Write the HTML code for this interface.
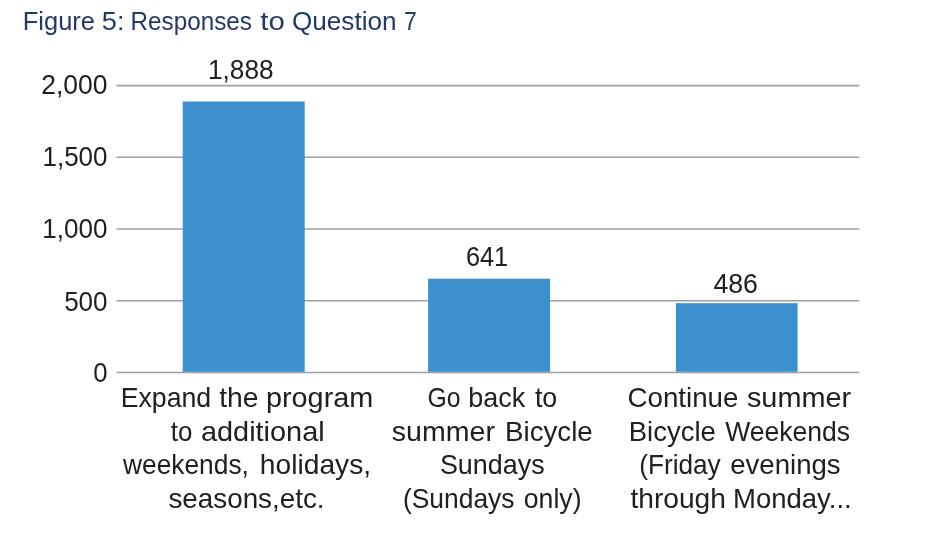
<!DOCTYPE html>
<html lang="en">
<head>
<meta charset="utf-8">
<title>Figure 5: Responses to Question 7</title>
<style>
html,body{margin:0;padding:0;background:#fff;}
body{width:932px;height:541px;overflow:hidden;}
svg{display:block;}
text{font-family:"Liberation Sans",sans-serif;}
</style>
</head>
<body>
<svg width="932" height="541" viewBox="0 0 932 541">
<rect x="0" y="0" width="932" height="541" fill="#ffffff"/>
<g stroke="#a0a0a0" stroke-width="1.6" fill="none">
<line x1="116.5" y1="85.6" x2="859.4" y2="85.6"/>
<line x1="116.5" y1="157.3" x2="859.4" y2="157.3"/>
<line x1="116.5" y1="229.0" x2="859.4" y2="229.0"/>
<line x1="116.5" y1="300.8" x2="859.4" y2="300.8"/>
<line x1="116.5" y1="372.5" x2="859.4" y2="372.5"/>
</g>
<g fill="#3c90ce">
<rect x="182.7" y="101.5" width="122.0" height="270.3"/>
<rect x="428.1" y="278.7" width="122.0" height="93.1"/>
<rect x="675.9" y="303.2" width="121.7" height="68.6"/>
</g>
<text y="29.8" font-size="25.5" fill="#213a67"><tspan x="22.80" textLength="72.12" lengthAdjust="spacingAndGlyphs">Figure</tspan> <tspan x="101.83" textLength="22.70" lengthAdjust="spacingAndGlyphs">5:</tspan> <tspan x="130.60" textLength="121.33" lengthAdjust="spacingAndGlyphs">Responses</tspan> <tspan x="260.32" textLength="24.57" lengthAdjust="spacingAndGlyphs">to</tspan> <tspan x="291.92" textLength="104.68" lengthAdjust="spacingAndGlyphs">Question</tspan> <tspan x="403.97" textLength="12.80" lengthAdjust="spacingAndGlyphs">7</tspan></text>
<text y="93.9" font-size="28.3" fill="#202020"><tspan x="41.28" textLength="66.24" lengthAdjust="spacingAndGlyphs">2,000</tspan></text>
<text y="165.8" font-size="28.3" fill="#202020"><tspan x="42.51" textLength="64.99" lengthAdjust="spacingAndGlyphs">1,500</tspan></text>
<text y="238.4" font-size="28.3" fill="#202020"><tspan x="42.31" textLength="65.20" lengthAdjust="spacingAndGlyphs">1,000</tspan></text>
<text y="310.5" font-size="28.3" fill="#202020"><tspan x="64.14" textLength="43.50" lengthAdjust="spacingAndGlyphs">500</tspan></text>
<text y="382.4" font-size="28.3" fill="#202020"><tspan x="93.18" textLength="14.31" lengthAdjust="spacingAndGlyphs">0</tspan></text>
<text y="79.3" font-size="28.3" fill="#202020"><tspan x="208.00" textLength="65.55" lengthAdjust="spacingAndGlyphs">1,888</tspan></text>
<text y="265.6" font-size="28.3" fill="#202020"><tspan x="465.95" textLength="42.18" lengthAdjust="spacingAndGlyphs">641</tspan></text>
<text y="292.8" font-size="28.3" fill="#202020"><tspan x="713.38" textLength="44.58" lengthAdjust="spacingAndGlyphs">486</tspan></text>
<text y="407.0" font-size="28.3" fill="#202020"><tspan x="120.65" textLength="90.59" lengthAdjust="spacingAndGlyphs">Expand</tspan> <tspan x="219.20" textLength="39.30" lengthAdjust="spacingAndGlyphs">the</tspan> <tspan x="266.00" textLength="107.22" lengthAdjust="spacingAndGlyphs">program</tspan></text>
<text y="440.5" font-size="28.3" fill="#202020"><tspan x="170.84" textLength="21.59" lengthAdjust="spacingAndGlyphs">to</tspan> <tspan x="200.91" textLength="123.78" lengthAdjust="spacingAndGlyphs">additional</tspan></text>
<text y="474.1" font-size="28.3" fill="#202020"><tspan x="123.00" textLength="125.87" lengthAdjust="spacingAndGlyphs">weekends,</tspan> <tspan x="259.84" textLength="111.30" lengthAdjust="spacingAndGlyphs">holidays,</tspan></text>
<text y="507.5" font-size="28.3" fill="#202020"><tspan x="168.46" textLength="156.08" lengthAdjust="spacingAndGlyphs">seasons,etc.</tspan></text>
<text y="407.0" font-size="28.3" fill="#202020"><tspan x="427.47" textLength="33.01" lengthAdjust="spacingAndGlyphs">Go</tspan> <tspan x="468.22" textLength="56.93" lengthAdjust="spacingAndGlyphs">back</tspan> <tspan x="534.92" textLength="22.34" lengthAdjust="spacingAndGlyphs">to</tspan></text>
<text y="440.5" font-size="28.3" fill="#202020"><tspan x="391.84" textLength="103.15" lengthAdjust="spacingAndGlyphs">summer</tspan> <tspan x="505.08" textLength="87.61" lengthAdjust="spacingAndGlyphs">Bicycle</tspan></text>
<text y="474.1" font-size="28.3" fill="#202020"><tspan x="439.90" textLength="104.73" lengthAdjust="spacingAndGlyphs">Sundays</tspan></text>
<text y="507.5" font-size="28.3" fill="#202020"><tspan x="402.95" textLength="111.54" lengthAdjust="spacingAndGlyphs">(Sundays</tspan> <tspan x="523.81" textLength="57.71" lengthAdjust="spacingAndGlyphs">only)</tspan></text>
<text y="407.0" font-size="28.3" fill="#202020"><tspan x="627.52" textLength="110.91" lengthAdjust="spacingAndGlyphs">Continue</tspan> <tspan x="746.93" textLength="104.16" lengthAdjust="spacingAndGlyphs">summer</tspan></text>
<text y="440.5" font-size="28.3" fill="#202020"><tspan x="628.79" textLength="87.09" lengthAdjust="spacingAndGlyphs">Bicycle</tspan> <tspan x="725.26" textLength="124.83" lengthAdjust="spacingAndGlyphs">Weekends</tspan></text>
<text y="474.1" font-size="28.3" fill="#202020"><tspan x="639.16" textLength="81.56" lengthAdjust="spacingAndGlyphs">(Friday</tspan> <tspan x="730.17" textLength="110.51" lengthAdjust="spacingAndGlyphs">evenings</tspan></text>
<text y="507.5" font-size="28.3" fill="#202020"><tspan x="630.50" textLength="95.43" lengthAdjust="spacingAndGlyphs">through</tspan> <tspan x="733.09" textLength="118.58" lengthAdjust="spacingAndGlyphs">Monday...</tspan></text>
</svg>
</body>
</html>
